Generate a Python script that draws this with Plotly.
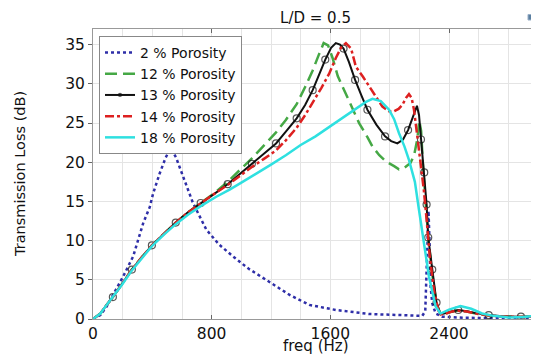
import plotly.graph_objects as go

# 2 % porosity
f_2 = [0, 50, 92, 150, 200, 271, 338, 383, 405, 450, 490, 524, 560, 607, 674, 764, 850, 943, 1050, 1167,
       1323, 1458, 1638, 1862, 2130, 2220, 2240, 2252, 2262, 2270, 2276, 2287, 2310, 2354, 2500, 3000]
tl_2 = [0, 0.5, 1.6, 3.5, 5.3, 8.0, 12.2, 14.3, 16.0, 18.6, 20.6, 21.8, 20.6, 18.2, 14.8, 11.4, 9.5, 8.0, 6.4, 5.0,
        3.1, 1.8, 1.15, 0.64, 0.4, 0.4, 1.0, 7.0, 13.8, 9.0, 4.1, 2.0, 0.7, 0.3, 0.15, 0.1]

# 12 % porosity
f_12 = [0, 50, 92, 134, 200, 262, 330, 397, 480, 558, 640, 726, 820, 908, 990, 1071, 1150, 1234, 1300, 1373,
        1430, 1481, 1520, 1555, 1585, 1615, 1650, 1704, 1750, 1794, 1850, 1884, 1930, 1974, 2030, 2063, 2100,
        2140, 2165, 2186, 2200, 2212, 2225, 2245, 2262, 2285, 2315, 2343, 2380, 2420, 2462, 2520, 2580, 2668,
        2760, 2885, 3000]
tl_12 = [0, 0.7, 1.8, 2.8, 4.6, 6.3, 7.9, 9.4, 10.9, 12.3, 13.6, 14.8, 16.1, 17.5, 19.0, 20.5, 22.1, 23.8, 25.4, 27.4,
         29.6, 31.7, 33.6, 35.2, 34.9, 33.3, 31.0, 28.8, 26.8, 25.0, 23.2, 22.0, 20.9, 20.1, 19.5, 19.1, 19.3,
         19.9, 20.9, 22.9, 25.3, 24.0, 19.5, 14.5, 10.0, 6.0, 2.0, 0.6, 0.7, 0.95, 1.1, 0.95, 0.7, 0.45,
         0.3, 0.25, 0.3]

# 13 % porosity
f_13 = [0, 50, 92, 134, 200, 262, 330, 397, 480, 558, 640, 726, 820, 908, 990, 1071, 1150, 1234, 1300, 1373,
        1430, 1481, 1525, 1566, 1605, 1637, 1665, 1689, 1725, 1767, 1810, 1850, 1910, 1969, 2010, 2052, 2090,
        2124, 2155, 2184, 2198, 2211, 2233, 2249, 2260, 2287, 2316, 2343, 2380, 2420, 2462, 2520, 2580, 2668,
        2760, 2885, 3000]
tl_13 = [0, 0.7, 1.8, 2.8, 4.6, 6.3, 7.9, 9.4, 10.9, 12.3, 13.6, 14.8, 16.0, 17.2, 18.5, 19.8, 21.0, 22.4, 23.9, 25.6,
         27.3, 29.2, 31.2, 33.1, 34.6, 35.2, 35.0, 34.5, 32.8, 30.5, 28.5, 26.7, 24.8, 23.3, 22.7, 22.4, 22.9,
         24.1, 25.7, 27.2, 26.0, 22.9, 18.7, 14.6, 10.4, 6.3, 2.1, 0.6, 0.75, 1.0, 1.15, 1.0, 0.75, 0.5,
         0.35, 0.3, 0.35]
# frequencies of the 13 % curve that carry a circle marker
f_13_markers = [134, 262, 397, 558, 726, 908, 1071, 1234, 1373, 1481, 1566, 1689, 1767, 1850, 1969, 2124,
                2211, 2233, 2249, 2260, 2287, 2316, 2462, 2668, 2885]

# 14 % porosity
f_14 = [0, 50, 92, 134, 200, 262, 330, 397, 480, 558, 640, 726, 820, 908, 990, 1071, 1150, 1234, 1300, 1373,
        1430, 1481, 1540, 1592, 1637, 1675, 1705, 1740, 1772, 1820, 1861, 1910, 1951, 1996, 2030, 2060, 2085,
        2110, 2130, 2148, 2164, 2185, 2209, 2230, 2250, 2270, 2300, 2330, 2343, 2380, 2420, 2462, 2520, 2580,
        2668, 2760, 2885, 3000]
tl_14 = [0, 0.7, 1.8, 2.8, 4.6, 6.3, 7.9, 9.4, 10.9, 12.3, 13.6, 14.8, 16.0, 17.1, 18.3, 19.4, 20.4, 21.5, 22.8, 24.4,
         26.0, 27.6, 29.5, 31.3, 33.3, 34.7, 35.2, 34.5, 32.2, 30.9, 29.7, 28.2, 27.1, 26.5, 26.5, 26.8, 27.3,
         28.2, 28.7, 28.2, 26.7, 23.5, 19.9, 16.5, 12.5, 8.0, 3.5, 1.0, 0.6, 0.7, 0.95, 1.05, 0.95, 0.7,
         0.45, 0.3, 0.25, 0.3]

# 18 % porosity
f_18 = [0, 50, 92, 134, 200, 262, 330, 397, 480, 558, 640, 726, 831, 921, 1000, 1100, 1200, 1300, 1400, 1500,
        1592, 1680, 1772, 1840, 1884, 1940, 1996, 2030, 2063, 2100, 2130, 2170, 2197, 2231, 2265, 2310, 2343,
        2400, 2478, 2550, 2623, 2700, 2802, 2900, 3000]
tl_18 = [0, 0.7, 1.8, 2.8, 4.5, 6.2, 7.8, 9.3, 10.8, 12.1, 13.3, 14.4, 15.6, 16.5, 17.4, 18.5, 19.7, 20.9, 22.2, 23.3,
         24.5, 25.7, 26.9, 27.7, 28.1, 27.8, 26.7, 25.5, 23.7, 22.0, 20.3, 17.5, 14.0, 9.5, 5.4, 1.6, 0.7,
         1.2, 1.65, 1.3, 0.7, 0.4, 0.2, 0.25, 0.45]

x_ticks = [0, 800, 1600, 2400]
y_ticks = [0, 5, 10, 15, 20, 25, 30, 35]

FONT = "DejaVu Sans"

fig = go.Figure()
fig.add_trace(go.Scatter(x=f_2, y=tl_2, mode="lines", name="2 % Porosity",
                         line=dict(color="#2e2ea8", width=2.5, dash="dot")))
fig.add_trace(go.Scatter(x=f_12, y=tl_12, mode="lines", name="12 % Porosity",
                         line=dict(color="#45a845", width=2.5, dash="12px,6px")))
marker_sizes = [7 if f in f_13_markers else 0 for f in f_13]
fig.add_trace(go.Scatter(x=f_13, y=tl_13, mode="lines+markers", name="13 % Porosity",
                         line=dict(color="#111111", width=2.0),
                         marker=dict(symbol="circle-open", size=marker_sizes, color="#111111",
                                     line=dict(width=1.2))))
fig.add_trace(go.Scatter(x=f_14, y=tl_14, mode="lines", name="14 % Porosity",
                         line=dict(color="#dd2020", width=2.5, dash="dashdot")))
fig.add_trace(go.Scatter(x=f_18, y=tl_18, mode="lines", name="18 % Porosity",
                         line=dict(color="#2ee0e0", width=2.5)))

# The page body keeps the browser's default 8 px margin, so the figure is
# sized 8 px smaller and the margins are shifted accordingly.
fig.update_layout(
    width=531, height=346,
    margin=dict(l=85, r=1, t=21, b=35, autoexpand=False),
    paper_bgcolor="white", plot_bgcolor="white",
    font=dict(family=FONT, size=15, color="#111111"),
    title=dict(text="L/D = 0.5", x=0.5, xanchor="center", xref="paper", y=1 - 10 / 346,
               yref="container", yanchor="middle", font=dict(family=FONT, size=15)),
    legend=dict(x=0.0135, y=0.976, xanchor="left", yanchor="top",
                bgcolor="white", bordercolor="#888888", borderwidth=1,
                font=dict(family=FONT, size=14), tracegroupgap=0, itemwidth=30),
    showlegend=True,
    annotations=[
        dict(text="Transmission Loss (dB)", xref="paper", yref="paper", x=-0.164, y=0.5,
             textangle=-90, showarrow=False, xanchor="center", yanchor="middle",
             font=dict(family=FONT, size=14.5)),
        dict(text="freq (Hz)", xref="paper", yref="paper", x=0.5, y=-0.094,
             showarrow=False, xanchor="center", yanchor="middle",
             font=dict(family=FONT, size=15)),
    ],
    shapes=[
        dict(type="rect", xref="paper", yref="paper", x0=0.9775, x1=0.993, y0=1.031, y1=1.050,
             fillcolor="#5a7fa0", line=dict(color="#9ab0c8", width=1)),
    ],
)
fig.update_xaxes(range=[0, 3000], tickvals=x_ticks, ticktext=[str(v) for v in x_ticks],
                 automargin=False, showgrid=False, zeroline=False,
                 showline=True, linecolor="#999999", linewidth=1, mirror="ticks",
                 ticks="inside", ticklen=4, tickcolor="#666666", tickfont=dict(size=15.5),
                 minor=dict(dtick=200, tick0=0, showgrid=True, gridcolor="#e4e4e4", gridwidth=1))
fig.update_yaxes(range=[0, 37], tickvals=y_ticks, automargin=False,
                 showgrid=True, gridcolor="#e4e4e4", gridwidth=1,
                 zeroline=False, showline=True, linecolor="#999999", linewidth=1, mirror="ticks",
                 ticks="outside", ticklen=4, tickcolor="#666666", tickfont=dict(size=15.5))

fig.write_html("out.html")
